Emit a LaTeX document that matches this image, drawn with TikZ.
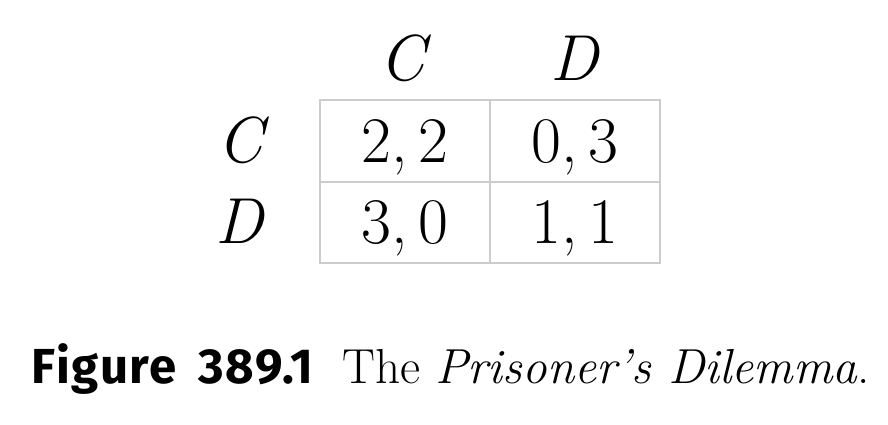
\documentclass[tikz,border=0pt]{standalone}
\usepackage{fontspec}
\newfontfamily\capfont{Fira Sans}[LetterSpace=3.5, WordSpace=1.6]
\usepackage{tikz}
\tikzstyle{cell} = [draw=gray!40, line width=1.4pt, minimum width=3.4cm, minimum height=1.63cm, inner sep=0pt, text height=24pt, text depth=0pt]
\tikzstyle{strategy} = [draw=none, inner sep=0pt, text height=24pt, text depth=0pt]
\tikzstyle{rowdist} = [node distance = 1.63cm]
\tikzstyle{labeldist} = [node distance = 3.24cm]
\tikzstyle{caption} = [inner sep=0pt, anchor=base west, font=\fontsize{28}{33}\selectfont]

\begin{document}
\begin{tikzpicture}[ node distance=3.4cm, font=\fontsize{37}{44}\selectfont ]

\useasboundingbox (0,0) rectangle (17.76,-8.48);

% payoffs
\node (cc) [cell] at (8.1,-2.82)         {2,\,2};
\node (cd) [cell,right of=cc]            {0,\,3};
\node (dc) [cell,rowdist,below of=cc]    {3,\,0};
\node (dd) [cell,right of=dc]            {1,\,1};

% strategies
\node (colc) [strategy,rowdist,above of=cc]    {\textit{C}};
\node (cold) [strategy,rowdist,above of=cd]    {\textit{D}};
\node (rowc) [strategy,labeldist,left of=cc]   {\textit{C}};
\node (rowd) [strategy,labeldist,left of=dc,xshift=-.06cm] {\textit{D}};

% caption
\node (fignum) [caption] at (0.63,-7.66) {\capfont\bfseries Figure 389.1};
\node (figtext) [caption] at ([xshift=.56cm]fignum.base east) {The \textit{Prisoner's Dilemma}.};

\end{tikzpicture}
\end{document}
